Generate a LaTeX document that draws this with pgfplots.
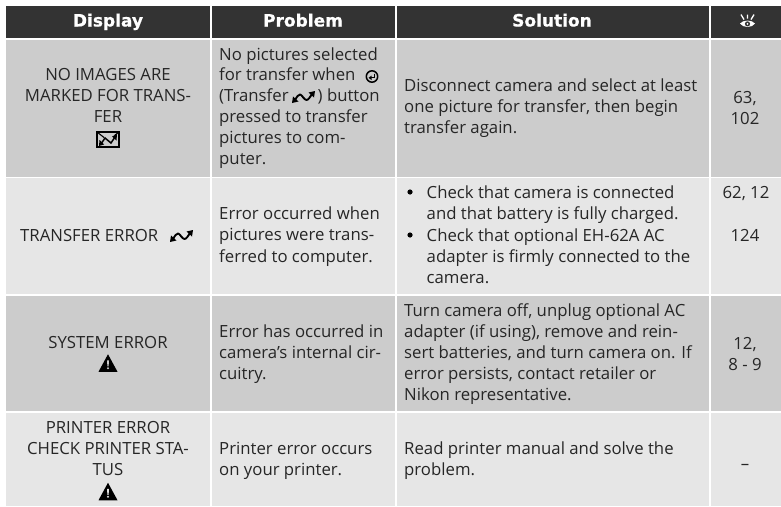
\documentclass[border=0pt]{standalone}
\usepackage{pgfplots}
\pgfplotsset{compat=1.18}
\usepackage{fontspec}
\setmainfont{Open Sans}
\newfontfamily\headfont{DejaVu Sans}[BoldFeatures={FakeBold=0.7}]
\definecolor{hd}{HTML}{333333}
\definecolor{rowa}{HTML}{CCCCCC}
\definecolor{rowb}{HTML}{E6E6E6}
\definecolor{ink}{HTML}{262626}
\newcommand\bodyfont{\fontsize{16.75}{21}\selectfont\color{ink}}
\newcommand\hfont{\headfont\fontsize{17}{21}\selectfont\bfseries\color{white}}
\newcommand\tl[3]{\node[anchor=base west,inner sep=0pt,yshift=-0.5pt] at (axis cs:#1,#2) {\bodyfont #3};}
\newcommand\tc[3]{\node[anchor=base,inner sep=0pt,yshift=-0.5pt] at (axis cs:#1,#2) {\bodyfont #3};}
\newcommand\hc[3]{\node[anchor=base,inner sep=0pt] at (axis cs:#1,#2) {\hfont #3};}
\newcommand\bul[2]{\node[circle,fill=black,inner sep=0pt,minimum size=5.2pt] at (axis cs:#1,#2) {};}
\newcommand\cellbox[5]{\addplot[draw=none,fill=#5] coordinates {(#1,#2) (#3,#2) (#3,#4) (#1,#4)} -- cycle;}
\newcommand\xfer{\tikz[x=1pt,y=-1pt,line join=round]{%
  \draw[line width=1.9pt,black] (3,9) .. controls (5,6) and (6,3.5) .. (8,3.5) .. controls (10,3.5) and (12,9) .. (14.5,9) .. controls (16.5,9) and (18,6) .. (20,3);
  \fill[black] (0,12) -- (1,5.5) -- (6.5,10.5) -- cycle;
  \fill[black] (23,0) -- (22,6.5) -- (16.5,1.5) -- cycle;}}
\newcommand\warn{\tikz[x=1pt,y=-1pt]{%
  \fill[black] (9.5,0) -- (19,17.5) -- (0,17.5) -- cycle;
  \fill[rowa] (8.5,6) -- (10.5,6) -- (10.1,12) -- (8.9,12) -- cycle;
  \fill[rowa] (9.5,14) circle (1.1);}}
\newcommand\warnb{\tikz[x=1pt,y=-1pt]{%
  \fill[black] (9.5,0) -- (19,17.5) -- (0,17.5) -- cycle;
  \fill[rowb] (8.5,6) -- (10.5,6) -- (10.1,12) -- (8.9,12) -- cycle;
  \fill[rowb] (9.5,14) circle (1.1);}}
\newcommand\envicon{\tikz[x=1pt,y=-1pt]{%
  \draw[line width=1.9pt,black] (1,1) rectangle (23,16);
  \draw[line width=1.1pt,black] (1,1) -- (8,6.5) (23,1) -- (18.5,4.5);
  \draw[line width=1.5pt,black] (5,13) -- (9,7) -- (15,12) -- (19,6);
  \fill[black] (3,15) -- (3.5,9) -- (8,13.5) -- cycle;
  \fill[black] (21,3) -- (20.5,9.5) -- (16,5.5) -- cycle;}}
\newcommand\retbtn{\tikz[x=1pt,y=-1pt]{%
  \draw[line width=1.5pt,black] (6.5,6.5) circle (5.7);
  \draw[line width=1.2pt,black] (9.2,3.5) -- (9.2,7.8) -- (5,7.8);
  \fill[black] (3,7.8) -- (6,5.6) -- (6,10) -- cycle;}}
\newcommand\eye{\tikz[x=1pt,y=-1pt]{%
  \draw[line width=1.3pt,white] (1,0) -- (4,5) (7.5,0) -- (7.5,4) (14,0) -- (11,5);
  \fill[white] (0,9) .. controls (3,5) and (12,5) .. (15,9) .. controls (12,13.5) and (3,13.5) .. (0,9) -- cycle;
  \fill[hd] (7.5,9.3) circle (2.6);
  \fill[white] (7.5,9.3) circle (0.9);}}
\begin{document}
\begin{tikzpicture}
\path[use as bounding box] (0,0) rectangle (781pt,506pt);
\begin{axis}[scale only axis,width=781pt,height=506pt,hide axis,
  xmin=0,xmax=781,ymin=0,ymax=506,y dir=reverse,clip=false,anchor=south west,at={(0,0)}]
% header
\cellbox{6}{6}{210}{38}{hd}
\cellbox{211.5}{6}{395}{38}{hd}
\cellbox{396.5}{6}{709}{38}{hd}
\cellbox{710.5}{6}{781}{38}{hd}
% row 1
\cellbox{6}{39.5}{210}{176.5}{rowa}
\cellbox{211.5}{39.5}{395}{176.5}{rowa}
\cellbox{396.5}{39.5}{709}{176.5}{rowa}
\cellbox{710.5}{39.5}{781}{176.5}{rowa}
% row 2
\cellbox{6}{178}{210}{294}{rowb}
\cellbox{211.5}{178}{395}{294}{rowb}
\cellbox{396.5}{178}{709}{294}{rowb}
\cellbox{710.5}{178}{781}{294}{rowb}
% row 3
\cellbox{6}{295.5}{210}{411}{rowa}
\cellbox{211.5}{295.5}{395}{411}{rowa}
\cellbox{396.5}{295.5}{709}{411}{rowa}
\cellbox{710.5}{295.5}{781}{411}{rowa}
% row 4
\cellbox{6}{412.5}{210}{506}{rowb}
\cellbox{211.5}{412.5}{395}{506}{rowb}
\cellbox{396.5}{412.5}{709}{506}{rowb}
\cellbox{710.5}{412.5}{781}{506}{rowb}
% head text
\hc{108}{26.5}{Display}
\hc{303}{26.5}{Problem}
\hc{552}{26.5}{Solution}
\node[inner sep=0pt] at (axis cs:747.5,21) {\eye};
% row 1 text
\tc{108}{80}{NO IMAGES ARE}
\tc{108}{101}{MARKED FOR TRANS-}
\tc{108}{122}{FER}
\node[inner sep=0pt] at (axis cs:108,139.5) {\envicon};
\tl{219}{59.5}{No pictures selected}
\tl{219}{80}{for transfer when}
\node[inner sep=0pt] at (axis cs:372,76.5) {\retbtn};
\tl{219}{101}{(Transfer}
\node[inner sep=0pt] at (axis cs:303.5,97) {\xfer};
\tl{317.5}{101}{) button}
\tl{219}{122}{pressed to transfer}
\tl{219}{143}{pictures to com-}
\tl{219}{164}{puter.}
\tl{404}{91}{Disconnect camera and select at least}
\tl{404}{112}{one picture for transfer, then begin}
\tl{404}{133}{transfer again.}
\tc{745}{103}{63,}
\tc{745}{123.5}{102}
% row 2 text
\tl{20}{241}{TRANSFER ERROR}
\node[inner sep=0pt] at (axis cs:181.5,236) {\xfer};
\tl{219}{219}{Error occurred when}
\tl{219}{240}{pictures were trans-}
\tl{219}{261.5}{ferred to computer.}
\bul{410}{192}
\tl{426.5}{197.5}{Check that camera is connected}
\tl{426.5}{218.5}{and that battery is fully charged.}
\bul{410}{235}
\tl{426.5}{240.5}{Check that optional EH-62A AC}
\tl{426.5}{261.5}{adapter is firmly connected to the}
\tl{426.5}{282.5}{camera.}
\tc{746}{197.5}{62, 12}
\tc{745}{240.5}{124}
% row 3 text
\tc{108}{347.5}{SYSTEM ERROR}
\node[inner sep=0pt] at (axis cs:108,363) {\warn};
\tl{219}{337}{Error has occurred in}
\tl{219}{358}{camera’s internal cir-}
\tl{219}{379}{cuitry.}
\tl{404}{315.5}{Turn camera off, unplug optional AC}
\tl{404}{336.5}{adapter (if using), remove and rein-}
\tl{404}{357.5}{sert batteries, and turn camera on. If}
\tl{404}{378.5}{error persists, contact retailer or}
\tl{404}{399.5}{Nikon representative.}
\tc{745}{349}{12,}
\tc{745}{370}{8 - 9}
% row 4 text
\tc{108}{432.5}{PRINTER ERROR}
\tc{108}{453.5}{CHECK PRINTER STA-}
\tc{108}{474.5}{TUS}
\node[inner sep=0pt] at (axis cs:108,491.5) {\warnb};
\tl{219}{453.5}{Printer error occurs}
\tl{219}{474.5}{on your printer.}
\tl{404}{453.5}{Read printer manual and solve the}
\tl{404}{474.5}{problem.}
\tc{745}{469}{–}
\end{axis}
\end{tikzpicture}
\end{document}
